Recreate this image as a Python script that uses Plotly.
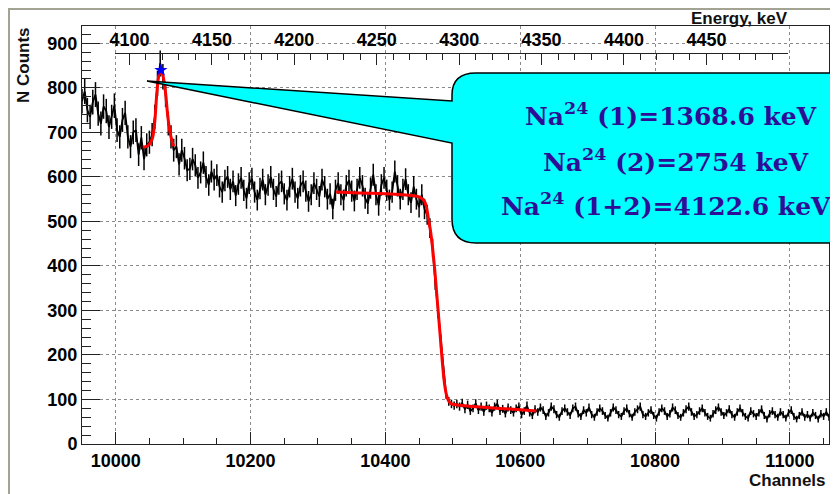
import plotly.graph_objects as go

# ---------------- data ----------------
channels = list(range(9950, 11059, 4))
counts = [
    770, 792, 750, 735, 768, 785, 742, 720, 758, 748,
    712, 735, 760, 705, 690, 728, 744, 690, 668, 700,
    705, 650, 688, 640, 672, 678, 695, 735, 810, 855,
    825, 785, 720, 690, 660, 668, 628, 660, 642, 615,
    618, 640, 626, 598, 610, 632, 600, 582, 612, 594,
    604, 578, 566, 592, 600, 572, 590, 558, 584, 598,
    570, 552, 586, 596, 566, 548, 574, 594, 560, 582,
    600, 572, 556, 584, 590, 562, 548, 578, 596, 566,
    552, 580, 590, 568, 545, 560, 586, 572, 556, 594,
    578, 550, 562, 528, 570, 586, 560, 548, 580, 592,
    568, 546, 572, 598, 580, 552, 540, 575, 605, 560,
    536, 582, 598, 570, 548, 566, 612, 580, 550, 572,
    595, 560, 542, 578, 550, 532, 560, 528, 515, 485,
    440, 365, 300, 230, 160, 112, 96, 90, 86, 90,
    84, 92, 78, 88, 74, 80, 91, 76, 84, 72,
    86, 80, 70, 84, 90, 74, 79, 68, 82, 76,
    70, 80, 84, 66, 74, 86, 70, 64, 78, 72,
    82, 76, 62, 70, 84, 78, 66, 60, 74, 80,
    72, 64, 80, 84, 68, 62, 76, 70, 82, 66,
    60, 72, 80, 74, 64, 58, 70, 82, 76, 66,
    62, 74, 80, 68, 60, 72, 78, 84, 66, 62,
    70, 76, 64, 58, 72, 80, 74, 62, 68, 82,
    76, 64, 60, 70, 78, 84, 72, 62, 66, 74,
    80, 70, 62, 58, 68, 76, 82, 72, 64, 70,
    78, 66, 60, 72, 80, 70, 62, 58, 74, 68,
    62, 70, 78, 64, 56, 68, 74, 66, 60, 72,
    66, 58, 70, 76, 62, 56, 64, 72, 60, 66,
    58, 70, 64, 56, 68, 62, 72, 60,
]

gauss_ch = [10040, 10045, 10049, 10052, 10055, 10058, 10061, 10064, 10067,
            10070, 10074, 10077, 10080, 10082, 10084, 10086]
gauss_val = [667, 668, 672, 678, 690, 725, 788, 828, 840,
             828, 788, 740, 705, 690, 678, 669]

step_ch = [10327, 10360, 10400, 10440, 10450, 10455, 10458, 10461, 10464, 10467,
           10470, 10473, 10476, 10479, 10482, 10485, 10488, 10491, 10494, 10498,
           10510, 10540, 10570, 10600, 10624]
step_val = [566, 564, 562, 558, 555, 550, 545, 532, 505, 478,
            440, 395, 340, 285, 230, 175, 132, 108, 96, 90,
            87, 83, 80, 77, 74]

peak_ch = [10067]
peak_val = [840]

energy_ticks = [4100, 4150, 4200, 4250, 4300, 4350, 4400, 4450]
energy_range = [4091.2, 4499.5]

callout_lines = [
    "Na<sup>24</sup> (1)=1368.6 keV",
    "Na<sup>24</sup> (2)=2754 keV",
    "Na<sup>24</sup> (1+2)=4122.6 keV",
]

# ---------------- layout geometry (screen pixels) ----------------
OX, OY = 8, 8                      # default body margin of the html page
W, H = 838 - 2 * OX, 494 - OY      # visible figure size
SL, SR, ST, SB = 82, 829, 26, 444  # plot area in screen pixels
PW, PH = SR - SL, SB - ST


def px(x):
    return (x - SL) / PW


def py(y):
    return (SB - y) / PH


fig = go.Figure()

fig.add_trace(go.Scatter(
    x=channels, y=counts, mode="lines",
    line=dict(color="black", width=1.8),
    error_y=dict(type="sqrt", color="black", thickness=1.5, width=0),
    showlegend=False, hoverinfo="skip",
))
fig.add_trace(go.Scatter(
    x=gauss_ch, y=gauss_val, mode="lines", line=dict(color="red", width=3, shape="spline"),
    showlegend=False, hoverinfo="skip",
))
fig.add_trace(go.Scatter(
    x=step_ch, y=step_val, mode="lines",
    line=dict(color="red", width=3, shape="spline", smoothing=0.5),
    showlegend=False, hoverinfo="skip",
))
fig.add_trace(go.Scatter(
    x=peak_ch, y=peak_val, mode="markers",
    marker=dict(symbol="star", size=10, color="blue"),
    showlegend=False, hoverinfo="skip",
))
# invisible trace to carry the top energy axis
fig.add_trace(go.Scatter(
    x=energy_range, y=[None, None], xaxis="x2", yaxis="y2", mode="markers",
    showlegend=False, hoverinfo="skip",
))

tickfont = dict(family="Liberation Sans, Arial, sans-serif", size=18, color="#000", weight="bold")
grid = dict(showgrid=True, gridcolor="#8a8a8a", griddash="dot", gridwidth=1)

fig.update_layout(
    width=W, height=H,
    margin=dict(l=SL - OX, r=max(W - (SR - OX), 0), t=ST - OY, b=H - (SB - OY), pad=0),
    paper_bgcolor="white", plot_bgcolor="rgba(0,0,0,0)",
    xaxis=dict(
        range=[9950, 11058], dtick=200, tick0=10000, tickformat="d",
        showline=True, linecolor="#222", linewidth=1, mirror=True,
        ticks="inside", ticklen=12, tickcolor="#222",
        minor=dict(dtick=50, tick0=10000, ticks="inside", ticklen=6, tickcolor="#222", showgrid=False),
        tickfont=tickfont, zeroline=False, **grid,
    ),
    yaxis=dict(
        range=[0, 939], dtick=100, tick0=0, tickformat="d",
        showline=True, linecolor="#222", linewidth=1, mirror=True,
        ticks="inside", ticklen=18, tickcolor="#222",
        minor=dict(dtick=20, tick0=0, ticks="inside", ticklen=9, tickcolor="#222", showgrid=False),
        tickfont=tickfont, zeroline=False, **grid,
    ),
    xaxis2=dict(
        range=energy_range, domain=[px(115), px(788)], anchor="free",
        position=py(53), side="top", tickformat="d",
        tickvals=energy_ticks, showline=True, linecolor="#222", linewidth=1,
        ticks="inside", ticklen=11, tickcolor="#222",
        minor=dict(dtick=10, tick0=4100, ticks="inside", ticklen=6, tickcolor="#222", showgrid=False),
        showgrid=False, zeroline=False, tickfont=tickfont,
    ),
    yaxis2=dict(range=[0, 939], overlaying="y", anchor="x2", visible=False, showgrid=False),
)

# outer grey border (as close to the page corner as the figure allows)
fig.add_shape(type="rect", xref="paper", yref="paper",
              x0=px(9), y0=py(9), x1=px(900), y1=py(560),
              line=dict(color="#a3a394", width=2), fillcolor="rgba(0,0,0,0)", layer="below")


def P(x, y):
    return f"{px(x):.5f},{py(y):.5f}"


# callout (speech balloon)
path = (
    f"M {P(147, 81)} L {P(452, 101)} "
    f"L {P(452, 95)} Q {P(452, 73)} {P(476, 73)} "
    f"L {P(870, 73)} L {P(870, 243)} L {P(476, 243)} "
    f"Q {P(452, 243)} {P(452, 219)} L {P(452, 143)} Z"
)
fig.add_shape(type="path", xref="paper", yref="paper", path=path,
              fillcolor="#00FFFF", line=dict(color="black", width=1.5), layer="above")

textfont = dict(family="DejaVu Serif, serif", size=25, color="#2E0E96", weight="bold")
for line_txt, xx, yy in zip(callout_lines, [671, 676, 666], [115, 160, 205]):
    fig.add_annotation(x=px(xx), y=py(yy), xref="paper", yref="paper",
                       text=line_txt, showarrow=False,
                       xanchor="center", yanchor="middle", font=textfont)

titlefont = dict(family="Liberation Sans, Arial, sans-serif", size=17, color="#111", weight="bold")
fig.add_annotation(x=px(24), y=py(25), xref="paper", yref="paper", text="N Counts",
                   textangle=-90, showarrow=False, xanchor="center", yanchor="top", font=titlefont)
fig.add_annotation(x=px(828), y=py(480), xref="paper", yref="paper", text="Channels",
                   showarrow=False, xanchor="right", yanchor="middle", font=titlefont)
fig.add_annotation(x=px(790), y=py(19), xref="paper", yref="paper", text="Energy, keV",
                   showarrow=False, xanchor="right", yanchor="middle", font=titlefont)

fig.write_html("out.html", config=dict(displayModeBar=False))
